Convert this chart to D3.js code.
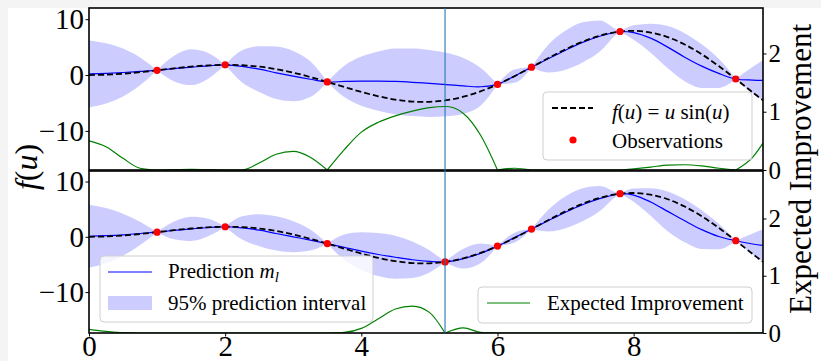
<!DOCTYPE html>
<html>
<head>
<meta charset="utf-8">
<script src="https://cdn.jsdelivr.net/npm/d3@7"></script>
<style>
  body { margin: 0; background: #f4f4f4; }
  svg { display: block; }
  text { font-family: "Liberation Serif", "DejaVu Serif", serif; fill: #000; }
</style>
</head>
<body>
<svg id="chart"></svg>
<script>
// ---- data ----
// observations (same in both panels, bottom adds the point picked by EI)
const obsU = [1, 2, 3.5, 6, 6.5, 7.8, 9.5];
const obsF = [0.84, 1.82, -1.23, -1.68, 1.40, 7.79, -0.71];
const nextU = 5.23;
const nextF = -4.54;

// f(u) = u sin(u), dashed black
const trueU = [0, 0.25, 0.5, 0.75, 1, 1.25, 1.5, 1.75, 2, 2.25, 2.5, 2.75, 3, 3.25, 3.5, 3.75, 4, 4.25, 4.5, 4.75, 5,
    5.25, 5.5, 5.75, 6, 6.25, 6.5, 6.75, 7, 7.25, 7.5, 7.75, 8, 8.25, 8.5, 8.75, 9, 9.25, 9.5, 9.75, 9.9];
const trueF = [0, 0.06, 0.24, 0.51, 0.84, 1.19, 1.50, 1.72, 1.82, 1.75, 1.50, 1.05, 0.42, -0.35, -1.23, -2.14, -3.03,
    -3.80, -4.40, -4.75, -4.79, -4.51, -3.88, -2.92, -1.68, -0.21, 1.40, 3.04, 4.60, 5.97, 7.04, 7.71, 7.92, 7.61, 6.79,
    5.47, 3.71, 1.61, -0.71, -3.12, -4.53];

// top panel: prediction, half width of 95% band, expected improvement
const gridTop = [0, 0.25, 0.5, 0.75, 1, 1.25, 1.5, 1.75, 2, 2.25, 2.5, 2.75, 3, 3.25, 3.5, 3.75, 4, 4.25, 4.5, 4.75, 5,
    5.25, 5.5, 5.75, 6, 6.25, 6.5, 6.75, 7, 7.25, 7.5, 7.75, 7.8, 8, 8.25, 8.5, 8.75, 9, 9.25, 9.5, 9.75, 9.9];
const predTop = [0.2, 0.3, 0.45, 0.65, 0.84, 1.15, 1.4, 1.65, 1.82, 1.55, 1.05, 0.4, -0.2, -0.75, -1.23, -1.15, -1.1,
    -1.1, -1.15, -1.3, -1.5, -1.7, -1.95, -2.1, -1.68, -0.2, 1.4, 2.95, 4.45, 5.85, 6.95, 7.7, 7.79, 7.6, 6.6, 5.0, 3.2,
    1.6, 0.3, -0.71, -0.9, -0.95];
const hwTop = [6.0, 5.4, 4.3, 2.5, 0, 2.3, 3.2, 2.3, 0, 2.9, 4.1, 4.7, 4.5, 3.2, 0, 2.8, 4.4, 5.3, 5.9, 6.05, 6.0, 5.7,
    5.0, 3.4, 0, 1.2, 0, 2.5, 3.5, 3.6, 2.8, 0.4, 0, 1.3, 2.6, 3.8, 4.3, 3.9, 2.6, 0, 2.4, 3.6];
const eiTop = [0.5, 0.4, 0.2, 0.03, 0, 0.005, 0.01, 0.005, 0, 0, 0.12, 0.27, 0.32, 0.22, 0, 0.35, 0.65, 0.82, 0.93, 1.01,
    1.07, 1.09, 0.97, 0.6, 0, 0.03, 0, 0, 0, 0, 0, 0, 0, 0.02, 0.05, 0.085, 0.09, 0.07, 0.03, 0, 0.22, 0.46];

// bottom panel
const gridBot = [0, 0.25, 0.5, 0.75, 1, 1.25, 1.5, 1.75, 2, 2.25, 2.5, 2.75, 3, 3.25, 3.5, 3.75, 4, 4.25, 4.5, 4.75, 5,
    5.23, 5.5, 5.75, 6, 6.25, 6.5, 6.75, 7, 7.25, 7.5, 7.75, 7.8, 8, 8.25, 8.5, 8.75, 9, 9.25, 9.5, 9.75, 9.9];
const predBot = [0.1, 0.2, 0.35, 0.6, 0.84, 1.15, 1.42, 1.68, 1.82, 1.6, 1.2, 0.6, 0.0, -0.6, -1.23, -1.9, -2.6, -3.2,
    -3.7, -4.15, -4.45, -4.54, -3.95, -3.0, -1.68, -0.15, 1.4, 2.95, 4.45, 5.8, 6.9, 7.7, 7.79, 7.55, 6.3, 4.6, 2.9, 1.3,
    0.05, -0.71, -1.3, -1.55];
const hwBot = [5.7, 5.0, 3.8, 2.1, 0, 1.6, 2.2, 1.6, 0, 2.1, 2.9, 3.1, 2.8, 1.9, 0, 2.3, 3.4, 3.9, 3.9, 3.3, 2.0, 0,
    1.8, 1.8, 0, 0.9, 0, 2.0, 2.9, 3.0, 2.3, 0.3, 0, 1.2, 2.5, 3.6, 3.9, 3.5, 2.3, 0, 1.9, 2.9];
const eiBot = [0.065, 0.03, 0.005, 0, 0, 0, 0, 0, 0, 0, 0, 0, 0, 0, 0, 0.01, 0.08, 0.25, 0.42, 0.47, 0.36, 0, 0.09,
    0.01, 0, 0, 0, 0, 0, 0, 0, 0, 0, 0, 0, 0, 0, 0, 0, 0, 0, 0];

const xTicks = [0, 2, 4, 6, 8];
const fTicks = [-10, 0, 10];
const eiTicks = [0, 1, 2];

// ---- layout ----
const W = 821, H = 361;
const LEFT = 89, RIGHT = 763;
const BAND = "rgba(0,0,255,0.2)";
const SERIF = "Liberation Serif";

const svg = d3.select("#chart").attr("width", W).attr("height", H);
svg.append("rect").attr("width", W).attr("height", H).attr("fill", "#f4f4f4");
svg.append("rect").attr("x", 8).attr("y", 8).attr("width", W - 8).attr("height", H - 8).attr("fill", "#fff");

const x = d3.scaleLinear().domain([0, 9.9]).range([LEFT, RIGHT]);

const panels = [
    { id: "top", top: 8, bottom: 170, fDomain: [-17, 12], eiDomain: [0, 2.78],
      grid: gridTop, pred: predTop, hw: hwTop, ei: eiTop,
      obsU: obsU, obsF: obsF, showX: false },
    { id: "bot", top: 171, bottom: 333, fDomain: [-17.4, 11.9], eiDomain: [0, 2.83],
      grid: gridBot, pred: predBot, hw: hwBot, ei: eiBot,
      obsU: obsU.concat([nextU]), obsF: obsF.concat([nextF]), showX: true }
];

// split index range at the observation points so the band / EI get sharp pinches there
function segments(grid, cuts) {
    const b = [grid[0]].concat(cuts.slice().sort((a, c) => a - c), [grid[grid.length - 1]]);
    const out = [];
    for (let k = 0; k < b.length - 1; k++) {
        const idx = d3.range(grid.length).filter(i => grid[i] >= b[k] - 1e-9 && grid[i] <= b[k + 1] + 1e-9);
        if (idx.length > 1) out.push(idx);
    }
    return out;
}

panels.forEach(p => {
    const y = d3.scaleLinear().domain(p.fDomain).range([p.bottom, p.top]);
    const ye = d3.scaleLinear().domain(p.eiDomain).range([p.bottom, p.top]);

    svg.append("clipPath").attr("id", "clip-" + p.id)
        .append("rect").attr("x", LEFT).attr("y", p.top).attr("width", RIGHT - LEFT).attr("height", p.bottom - p.top);

    const g = svg.append("g").attr("clip-path", `url(#clip-${ p.id })`);
    const segs = segments(p.grid, p.obsU);

    const band = d3.area()
        .curve(d3.curveMonotoneX)
        .x(i => x(p.grid[i]))
        .y0(i => y(p.pred[i] - p.hw[i]))
        .y1(i => y(p.pred[i] + p.hw[i]));

    g.selectAll(".band")
        .data(segs)
        .enter()
        .append("path")
        .attr("class", "band")
        .attr("d", band)
        .attr("fill", BAND)
        .attr("stroke", "none");

    const mean = d3.line()
        .curve(d3.curveCatmullRom)
        .x(i => x(p.grid[i]))
        .y(i => y(p.pred[i]));

    g.append("path")
        .attr("d", mean(d3.range(p.grid.length)))
        .attr("fill", "none")
        .attr("stroke", "#0000ff")
        .attr("stroke-width", 1.2);

    const truth = d3.line()
        .curve(d3.curveCatmullRom)
        .x((d, i) => x(trueU[i]))
        .y(d => y(d));

    g.append("path")
        .attr("d", truth(trueF))
        .attr("fill", "none")
        .attr("stroke", "#000")
        .attr("stroke-width", 1.8)
        .attr("stroke-dasharray", "6,3");

    g.selectAll(".obs")
        .data(p.obsU)
        .enter()
        .append("circle")
        .attr("cx", d => x(d))
        .attr("cy", (d, i) => y(p.obsF[i]))
        .attr("r", 3.6)
        .attr("fill", "#ff0000");

    // twin axis: expected improvement
    const eiLine = d3.line()
        .curve(d3.curveMonotoneX)
        .x(i => x(p.grid[i]))
        .y(i => ye(p.ei[i]));

    g.selectAll(".ei")
        .data(segs)
        .enter()
        .append("path")
        .attr("class", "ei")
        .attr("d", eiLine)
        .attr("fill", "none")
        .attr("stroke", "#008000")
        .attr("stroke-width", 1.2);

    // frame
    svg.append("rect")
        .attr("x", LEFT).attr("y", p.top)
        .attr("width", RIGHT - LEFT).attr("height", p.bottom - p.top)
        .attr("fill", "none").attr("stroke", "#000").attr("stroke-width", 1.6);

    const yAxis = svg.append("g")
        .attr("transform", `translate(${ LEFT },0)`)
        .call(d3.axisLeft(y).tickValues(fTicks).tickSize(3.5).tickPadding(1.5).tickSizeOuter(0));
    yAxis.select(".domain").remove();
    yAxis.selectAll("text").style("font-size", "29px").style("font-family", SERIF);

    const eAxis = svg.append("g")
        .attr("transform", `translate(${ RIGHT },0)`)
        .call(d3.axisRight(ye).tickValues(eiTicks).tickFormat(d3.format("d")).tickSize(3.5).tickPadding(2).tickSizeOuter(0));
    eAxis.select(".domain").remove();
    eAxis.selectAll("text").style("font-size", "25px").style("font-family", SERIF);

    if (p.showX) {
        const xAxis = svg.append("g")
            .attr("transform", `translate(0,${ p.bottom })`)
            .call(d3.axisBottom(x).tickValues(xTicks).tickFormat(d3.format("d")).tickSize(3.5).tickPadding(0).tickSizeOuter(0));
        xAxis.select(".domain").remove();
        xAxis.selectAll("text")
            .attr("dy", "0.68em")
            .style("font-size", "29px")
            .style("font-family", SERIF);
    }
});

// vertical line at the chosen next point
svg.append("line")
    .attr("x1", x(nextU)).attr("x2", x(nextU))
    .attr("y1", 8).attr("y2", 333)
    .attr("stroke", "#1f77b4").attr("stroke-opacity", 0.6).attr("stroke-width", 1.8);

// ---- legends ----
function legendBox(bx, by, bw, bh) {
    svg.append("rect")
        .attr("x", bx).attr("y", by).attr("width", bw).attr("height", bh)
        .attr("rx", 4)
        .attr("fill", "#fff").attr("fill-opacity", 0.8)
        .attr("stroke", "#cfcfcf").attr("stroke-width", 1);
}

const LF = "21px";

// top panel
legendBox(543, 92, 209, 68);
svg.append("line").attr("x1", 552).attr("x2", 593).attr("y1", 108).attr("y2", 108)
    .attr("stroke", "#000").attr("stroke-width", 1.8).attr("stroke-dasharray", "6,3");
const fLab = svg.append("text").attr("x", 612).attr("y", 119).style("font-size", LF);
fLab.append("tspan").style("font-style", "italic").text("f");
fLab.append("tspan").text("(");
fLab.append("tspan").style("font-style", "italic").text("u");
fLab.append("tspan").text(") = ");
fLab.append("tspan").style("font-style", "italic").text("u");
fLab.append("tspan").text(" sin(");
fLab.append("tspan").style("font-style", "italic").text("u");
fLab.append("tspan").text(")");
svg.append("circle").attr("cx", 573).attr("cy", 140).attr("r", 3.6).attr("fill", "#ff0000");
svg.append("text").attr("x", 612).attr("y", 148).style("font-size", LF).text("Observations");

// bottom-left
legendBox(100, 256, 273, 66);
svg.append("line").attr("x1", 108).attr("x2", 152).attr("y1", 272).attr("y2", 272)
    .attr("stroke", "#0000ff").attr("stroke-width", 1.2);
const pLab = svg.append("text").attr("x", 168).attr("y", 278).style("font-size", LF);
pLab.append("tspan").text("Prediction ");
pLab.append("tspan").style("font-style", "italic").text("m");
pLab.append("tspan").style("font-style", "italic").style("font-size", "15px").attr("dy", 4).text("l");
svg.append("rect").attr("x", 108).attr("y", 296).attr("width", 44).attr("height", 14).attr("fill", BAND);
svg.append("text").attr("x", 168).attr("y", 309.5).style("font-size", LF).text("95% prediction interval");

// bottom-right
legendBox(478, 287, 274, 36);
svg.append("line").attr("x1", 487).attr("x2", 530).attr("y1", 303).attr("y2", 303)
    .attr("stroke", "#008000").attr("stroke-width", 1.2);
svg.append("text").attr("x", 547).attr("y", 310).style("font-size", LF).text("Expected Improvement");

// ---- axis titles ----
const yTitle = svg.append("text")
    .attr("transform", "translate(37,167) rotate(-90)")
    .attr("text-anchor", "middle")
    .style("font-size", "32px");
yTitle.append("tspan").style("font-style", "italic").text("f");
yTitle.append("tspan").text("(");
yTitle.append("tspan").style("font-style", "italic").text("u");
yTitle.append("tspan").text(")");

svg.append("text")
    .attr("transform", "translate(811,169) rotate(-90)")
    .attr("text-anchor", "middle")
    .style("font-size", "31px")
    .text("Expected Improvement");
</script>
</body>
</html>
